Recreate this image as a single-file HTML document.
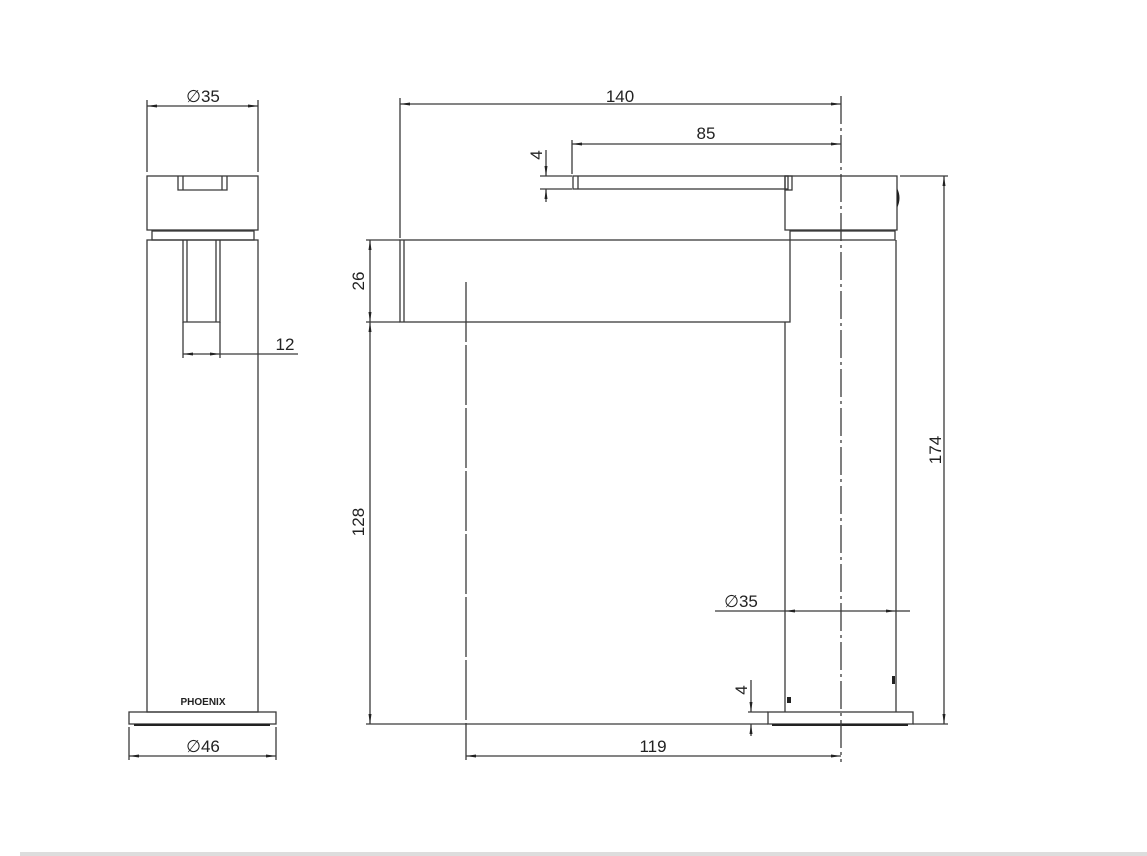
<!DOCTYPE html>
<html><head><style>
html,body{margin:0;padding:0;background:#fff;width:1147px;height:856px;overflow:hidden}
text{font-family:"Liberation Sans",sans-serif;font-size:17px;fill:#222}
</style></head><body>
<svg width="1147" height="856" viewBox="0 0 1147 856" xmlns="http://www.w3.org/2000/svg">
<defs>
<marker id="a" viewBox="0 0 10 6" refX="10" refY="3" markerWidth="10" markerHeight="6" orient="auto-start-reverse" markerUnits="userSpaceOnUse"><path d="M0,1.5L10,3L0,4.5z" fill="#222"/></marker>
</defs>
<g stroke="#3a3a3a" stroke-width="1.3" fill="none">
<line x1="147" y1="100" x2="147" y2="172"/><line x1="258" y1="100" x2="258" y2="172"/>
<line x1="147" y1="106" x2="258" y2="106" marker-start="url(#a)" marker-end="url(#a)"/>
<rect x="147" y="176" width="111" height="54"/>
<path d="M178,176V190H227V176M183,176V190M222,176V190"/>
<rect x="152" y="231" width="102" height="9"/>
<rect x="147" y="240" width="111" height="472"/>
<path d="M183,240V322H220V240M187,240V322M216,240V322"/>
<line x1="183" y1="322" x2="183" y2="358"/><line x1="220" y1="322" x2="220" y2="358"/>
<line x1="183" y1="354" x2="220" y2="354" marker-start="url(#a)" marker-end="url(#a)"/>
<line x1="220" y1="354" x2="298" y2="354"/>
<rect x="129" y="712" width="147" height="12"/>
<line x1="134" y1="725" x2="270" y2="725" stroke="#222" stroke-width="2"/>
<line x1="129" y1="727" x2="129" y2="760"/><line x1="276" y1="727" x2="276" y2="760"/>
<line x1="129" y1="756" x2="276" y2="756" marker-start="url(#a)" marker-end="url(#a)"/>
<line x1="400" y1="98" x2="400" y2="238"/>
<line x1="400" y1="104" x2="841" y2="104" marker-start="url(#a)" marker-end="url(#a)"/>
<line x1="572" y1="140" x2="572" y2="174"/>
<line x1="572" y1="144" x2="841" y2="144" marker-start="url(#a)" marker-end="url(#a)"/>
<rect x="573" y="176" width="215" height="13"/>
<line x1="578" y1="176" x2="578" y2="189"/>
<rect x="785" y="176" width="7" height="14"/>
<rect x="785" y="176" width="112" height="54"/>
<rect x="790" y="231" width="105" height="9"/>
<rect x="400" y="240" width="390" height="82"/>
<line x1="404" y1="240" x2="404" y2="322"/>
<line x1="785" y1="322" x2="785" y2="712"/><line x1="896" y1="240" x2="896" y2="712"/>
<rect x="768" y="712" width="145" height="12"/>
<line x1="772" y1="725" x2="908" y2="725" stroke="#222" stroke-width="2"/>
<line x1="841" y1="96" x2="841" y2="762" stroke-dasharray="28,4,3,4"/>
<line x1="466" y1="282" x2="466" y2="760" stroke-dasharray="60,3"/>
<line x1="900" y1="176" x2="948" y2="176"/><line x1="913" y1="724" x2="948" y2="724"/>
<line x1="944" y1="176" x2="944" y2="724" marker-start="url(#a)" marker-end="url(#a)"/>
<line x1="366" y1="240" x2="400" y2="240"/><line x1="366" y1="322" x2="400" y2="322"/>
<line x1="366" y1="724" x2="768" y2="724"/>
<line x1="370" y1="240" x2="370" y2="322" marker-start="url(#a)" marker-end="url(#a)"/>
<line x1="370" y1="322" x2="370" y2="724" marker-start="url(#a)" marker-end="url(#a)"/>
<line x1="466" y1="756" x2="841" y2="756" marker-start="url(#a)" marker-end="url(#a)"/>
<line x1="715" y1="611" x2="785" y2="611"/>
<line x1="785" y1="611" x2="896" y2="611" marker-start="url(#a)" marker-end="url(#a)"/>
<line x1="896" y1="611" x2="910" y2="611"/>
<line x1="540" y1="176" x2="572" y2="176"/><line x1="540" y1="189" x2="572" y2="189"/>
<line x1="546" y1="150" x2="546" y2="176" marker-end="url(#a)"/>
<line x1="546" y1="202" x2="546" y2="189" marker-end="url(#a)"/>
<line x1="748" y1="712" x2="768" y2="712"/>
<line x1="751" y1="680" x2="751" y2="712" marker-end="url(#a)"/>
<line x1="751" y1="736" x2="751" y2="724" marker-end="url(#a)"/>
</g>
<path d="M897,188 Q902,198 897,208z" fill="#222"/>
<rect x="787" y="697" width="4" height="6" fill="#222"/>
<rect x="892" y="676" width="3" height="8" fill="#222"/>
<g>
<text x="203" y="102" text-anchor="middle">∅35</text>
<text x="285" y="350" text-anchor="middle">12</text>
<text x="203" y="705" text-anchor="middle" style="font-size:10px;font-weight:bold">PHOENIX</text>
<text x="203" y="752" text-anchor="middle">∅46</text>
<text x="620" y="102" text-anchor="middle">140</text>
<text x="706" y="139" text-anchor="middle">85</text>
<text x="741" y="607" text-anchor="middle">∅35</text>
<text x="653" y="752" text-anchor="middle">119</text>
<text transform="translate(542,155) rotate(-90)" text-anchor="middle">4</text>
<text transform="translate(747,690) rotate(-90)" text-anchor="middle">4</text>
<text transform="translate(364,281) rotate(-90)" text-anchor="middle">26</text>
<text transform="translate(364,522) rotate(-90)" text-anchor="middle">128</text>
<text transform="translate(941,450) rotate(-90)" text-anchor="middle">174</text>
</g>
<rect x="20" y="852" width="1127" height="4" fill="#ddd"/>
</svg>
</body></html>
